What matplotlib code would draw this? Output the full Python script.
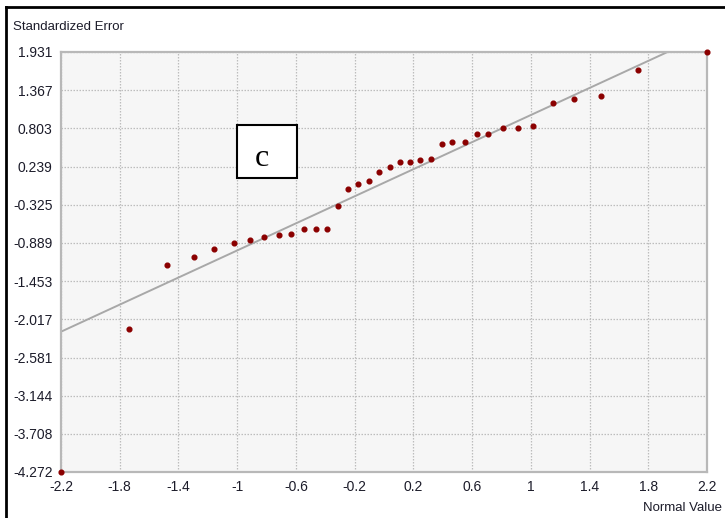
import matplotlib.pyplot as plt
from matplotlib.patches import Rectangle
from matplotlib.lines import Line2D

# normal probability plot values
normal_value = [-2.2, -1.737, -1.478, -1.294, -1.158, -1.022, -0.913, -0.815,
                -0.715, -0.633, -0.546, -0.464, -0.391, -0.316, -0.245, -0.177,
                -0.104, -0.036, 0.038, 0.106, 0.179, 0.247, 0.317, 0.392,
                0.465, 0.551, 0.633, 0.711, 0.813, 0.913, 1.017, 1.153,
                1.294, 1.476, 1.732, 2.2]
std_error = [-4.272, -2.165, -1.215, -1.102, -0.984, -0.885, -0.849, -0.808,
             -0.770, -0.755, -0.690, -0.690, -0.690, -0.349, -0.093, -0.015,
             0.025, 0.158, 0.238, 0.311, 0.311, 0.331, 0.356, 0.567,
             0.606, 0.606, 0.720, 0.720, 0.815, 0.815, 0.834, 1.184,
             1.242, 1.276, 1.665, 1.927]

x_ticks = [-2.2, -1.8, -1.4, -1.0, -0.6, -0.2, 0.2, 0.6, 1.0, 1.4, 1.8, 2.2]
x_labels = ["-2.2", "-1.8", "-1.4", "-1", "-0.6", "-0.2", "0.2", "0.6",
            "1", "1.4", "1.8", "2.2"]
y_labels = ["1.931", "1.367", "0.803", "0.239", "-0.325", "-0.889", "-1.453",
            "-2.017", "-2.581", "-3.144", "-3.708", "-4.272"]
y_ticks = [float(s) for s in y_labels]

plt.rcParams['font.family'] = ['Liberation Sans', 'DejaVu Sans']

fig = plt.figure(figsize=(7.25, 5.18), dpi=100)
ax = fig.add_axes([61 / 725, 1 - 472 / 518, 646 / 725, 420 / 518])
ax.set_facecolor('#f6f6f6')

ax.set_xlim(-2.2, 2.2)
ax.set_ylim(-4.272, 1.931)
ax.set_xticks(x_ticks)
ax.set_xticklabels(x_labels)
ax.set_yticks(y_ticks)
ax.set_yticklabels(y_labels)
ax.tick_params(length=0, labelsize=10, colors='#1c1c2a', pad=6)
ax.grid(True, linestyle=(0, (1.2, 1.2)), color='#bdbdbd', linewidth=0.9)
ax.set_axisbelow(True)
for s in ax.spines.values():
    s.set_color('#b8b8b8')
    s.set_linewidth(1.6)

# reference line y = x
ax.plot([-2.2, 2.2], [-2.2, 2.2], color='#a8a8a8', linewidth=1.4, zorder=2)
ax.plot(normal_value, std_error, linestyle='none', marker='o', markersize=3.4,
        color='#8b0000', zorder=3, clip_on=False)

fig.text(13 / 725, 1 - 27 / 518, "Standardized Error", fontsize=9.5,
         color='#1c1c2a', va='center', ha='left')
fig.text(643 / 725, 1 - 508 / 518, "Normal Value", fontsize=9.5,
         color='#1c1c2a', va='center', ha='left')

# label box "c"
fig.patches.append(Rectangle((237 / 725, 1 - 178 / 518), 60 / 725, 53 / 518,
                             transform=fig.transFigure, facecolor='white',
                             edgecolor='black', linewidth=1.5, zorder=5))
fig.text(262 / 725, 1 - 158 / 518, "c", fontsize=23, family='Liberation Serif',
         ha='center', va='center', zorder=6)

# outer frame (left and top edges visible)
fig.lines.append(Line2D([6 / 725, 6 / 725], [0, 1 - 7 / 518],
                        transform=fig.transFigure, color='black', linewidth=2))
fig.lines.append(Line2D([6 / 725, 1], [1 - 7 / 518, 1 - 7 / 518],
                        transform=fig.transFigure, color='black', linewidth=2))

plt.savefig("out.png", dpi=100)
